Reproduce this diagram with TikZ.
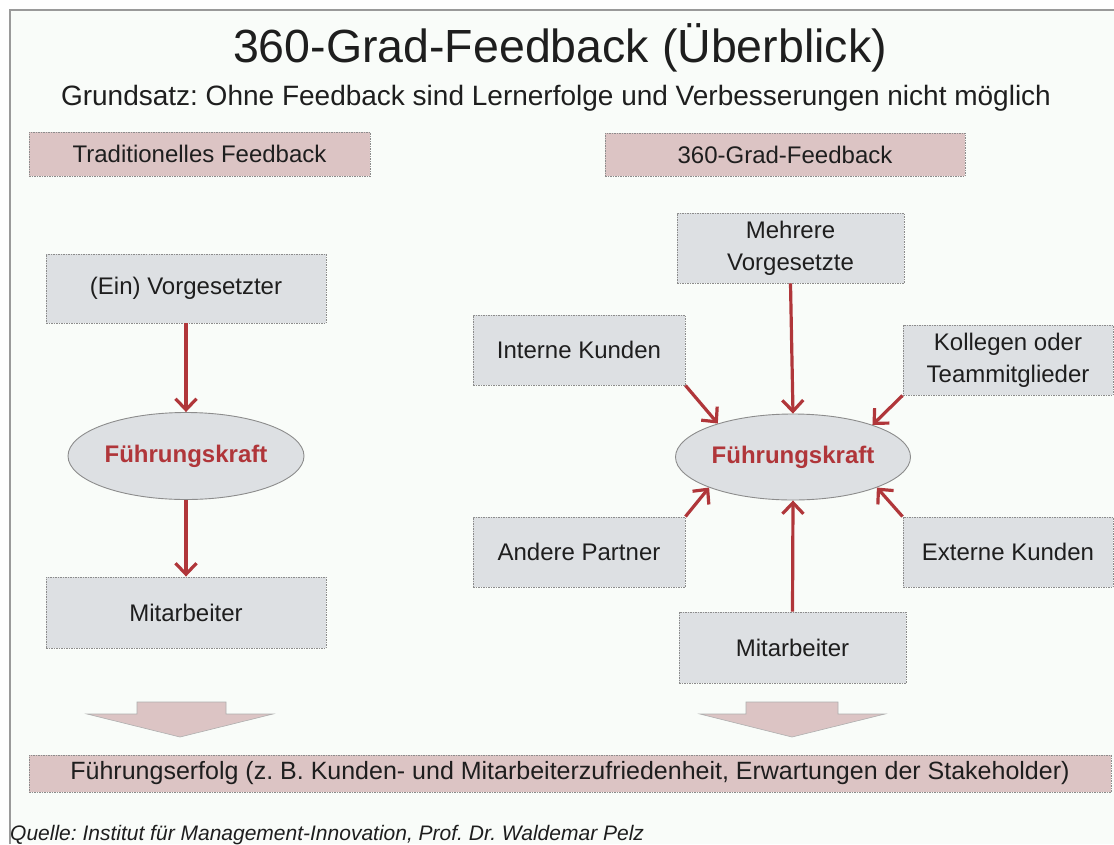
\documentclass[tikz,border=0pt]{standalone}
\usepackage{fontspec}
\setmainfont{Liberation Sans}
\usetikzlibrary{arrows.meta,shapes.geometric}
\definecolor{bgc}{HTML}{F9FCF9}
\definecolor{boxfill}{HTML}{DDE0E3}
\definecolor{pinkfill}{HTML}{DCC4C4}
\definecolor{redc}{HTML}{B0363A}
\definecolor{edgec}{HTML}{8C8C8C}
\definecolor{txtc}{HTML}{1E1E1E}
\definecolor{framec}{HTML}{9A9A9A}
\frenchspacing
\begin{document}
\begin{tikzpicture}[x=1pt,y=-1pt,
  graybox/.style={rectangle, draw=edgec, dash pattern=on 1.5pt off 1pt, line width=0.9pt,
    fill=boxfill, inner sep=0pt, align=center, text=txtc,
    font=\fontsize{24}{32}\selectfont},
  pinkbox/.style={graybox, fill=pinkfill},
  leader/.style={ellipse, draw=edgec, line width=0.9pt, fill=boxfill, inner sep=0pt,
    text=redc, font=\bfseries\fontsize{24}{30}\selectfont,
    minimum width=236pt, minimum height=87pt},
  redarrow/.style={draw=redc, line width=3.2pt,
    -{Straight Barb[length=11pt,width=21pt,line width=3.2pt]}},
  blockarrow/.style={fill=pinkfill, draw=edgec!70, line width=0.6pt}
]
\useasboundingbox (0,0) rectangle (1114,844);
\fill[white] (0,0) rectangle (1114,844);
\fill[bgc] (10,10) rectangle (1114,844);
\draw[framec, line width=1.6pt] (10,844) -- (10,10) -- (1114,10);

% titles
\node[anchor=base, text=txtc, font=\fontsize{46.5}{50}\selectfont] (title) at (560,62) {360-Grad-Feedback (Überblick)};
\node[anchor=base, text=txtc, font=\fontsize{28}{32}\selectfont] (sub) at (556,105) {Grundsatz: Ohne Feedback sind Lernerfolge und Verbesserungen nicht möglich};

% headers
\node[pinkbox, minimum width=341pt, minimum height=44pt] (trad) at (199.5,154) {Traditionelles Feedback};
\node[pinkbox, minimum width=360pt, minimum height=43pt] (grad) at (785,154.5) {360-Grad-Feedback};

% left side
\node[graybox, minimum width=280pt, minimum height=69pt] (vorg) at (186,288.5) {(Ein) Vorgesetzter};
\node[leader] (fkL) at (186,456) {Führungskraft};
\node[graybox, minimum width=280pt, minimum height=71pt] (mitL) at (186,612.5) {Mitarbeiter};
\draw[redarrow] (vorg.south) -- (fkL.north);
\draw[redarrow] (fkL.south) -- (mitL.north);

% right side
\node[graybox, minimum width=227pt, minimum height=70pt] (mehr) at (790.5,248) {Mehrere\\Vorgesetzte};
\node[graybox, minimum width=212pt, minimum height=70pt] (intern) at (579,350) {Interne Kunden};
\node[graybox, minimum width=210pt, minimum height=70pt] (koll) at (1008,360) {Kollegen oder\\Teammitglieder};
\node[leader, minimum width=235pt, minimum height=86pt] (fkR) at (793,457) {Führungskraft};
\node[graybox, minimum width=212pt, minimum height=70pt] (andere) at (579,552) {Andere Partner};
\node[graybox, minimum width=210pt, minimum height=70pt] (extern) at (1008,552) {Externe Kunden};
\node[graybox, minimum width=227pt, minimum height=71pt] (mitR) at (792.5,647.5) {Mitarbeiter};

\draw[redarrow] (mehr.south) -- (fkR.north);
\draw[redarrow] (intern.south east) -- (fkR.156);
\draw[redarrow] (koll.south west) -- (fkR.22);
\draw[redarrow] (andere.north east) -- (fkR.200);
\draw[redarrow] (extern.north west) -- (fkR.340);
\draw[redarrow] (mitR.north) -- (fkR.south);

% block arrows
\path[blockarrow] (137,702) -- (226,702) -- (226,714) -- (273,714) -- (180,737) -- (87,714) -- (137,714) -- cycle;
\path[blockarrow] (746,702) -- (838,702) -- (838,714) -- (885,714) -- (792,737) -- (700,714) -- (746,714) -- cycle;

% result bar
\node[pinkbox, minimum width=1082pt, minimum height=37pt, font=\fontsize{25}{30}\selectfont] (bar) at (570,773.5) {Führungserfolg (z. B. Kunden- und Mitarbeiterzufriedenheit, Erwartungen der Stakeholder)};

% source
\node[anchor=base west, inner sep=0pt, text=txtc, font=\itshape\fontsize{21}{24}\selectfont] (src) at (10,840) {Quelle: Institut für Management-Innovation, Prof. Dr. Waldemar Pelz};
\end{tikzpicture}
\end{document}
